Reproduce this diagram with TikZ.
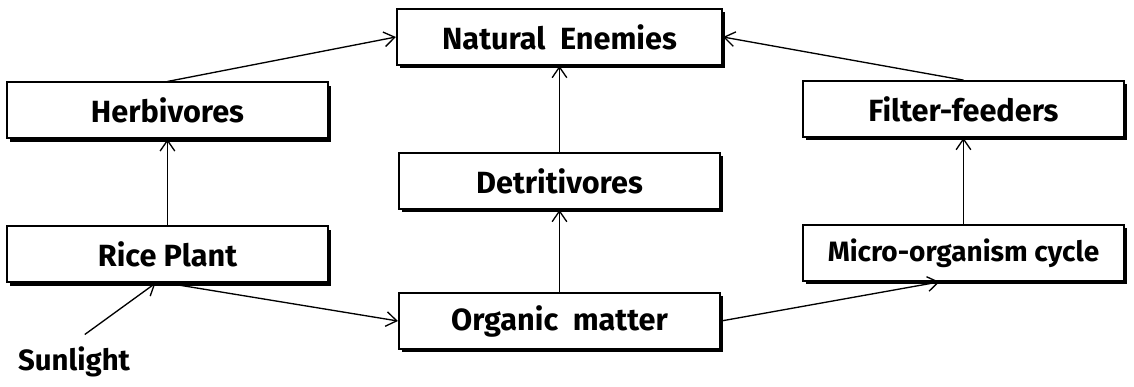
\documentclass[tikz,border=0pt]{standalone}
\usepackage{fontspec}
\setmainfont{Fira Sans}
\usetikzlibrary{positioning, calc, shadows, arrows.meta}
\tikzstyle{box} = [rectangle, minimum width=241pt, minimum height=42pt, text centered, draw=black, line width=1.3pt, fill=white, font=\bfseries\fontsize{23}{27}\selectfont, drop shadow={shadow xshift=2.5pt, shadow yshift=-2.5pt, fill=black, opacity=1}]
\tikzstyle{arrow} = [line width=1pt, -{Straight Barb[length=8pt, width=11pt]}]

\begin{document}
\begin{tikzpicture}[node distance=108pt]
\useasboundingbox (-419.6pt,27.75pt) rectangle (430.9pt,-261.75pt);

% Top
\node (enemies) [box, minimum width=244pt] {Natural\ \ Enemies};

% Middle column
\node (detrit) [box, below of=enemies] {Detritivores};
\node (organic) [box, below of=detrit, yshift=3pt] {Organic\ \ matter};

% Left column
\node (herbiv) [box] at (-294pt,-55pt) {Herbivores};
\node (rice) [box, below of=herbiv] {Rice Plant};
\node (sun) [font=\bfseries\fontsize{22}{26}\selectfont] at (-364pt,-244pt) {Sunlight};

% Right column
\node (filter) [box] at (303pt,-54pt) {Filter-feeders};
\node (micro) [box, below of=filter, font=\bfseries\fontsize{21}{25}\selectfont] {Micro-organism cycle};

\coordinate (riceIn) at ($(rice.south)+(-9pt,0)$);
\coordinate (microIn) at ($(micro.south)+(-18pt,0)$);

% Arrows
\draw [arrow] (herbiv.north) -- (enemies.west);
\draw [arrow] (filter.north) -- (enemies.east);
\draw [arrow] (detrit) -- (enemies);
\draw [arrow] (organic) -- (detrit);
\draw [arrow] (rice) -- (herbiv);
\draw [arrow] (micro) -- (filter);
\draw [arrow] (rice.south) -- (organic.west);
\draw [arrow] (organic.east) -- (microIn);
\draw [arrow] ($(sun.north)+(8pt,6pt)$) -- (riceIn);

\end{tikzpicture}
\end{document}
